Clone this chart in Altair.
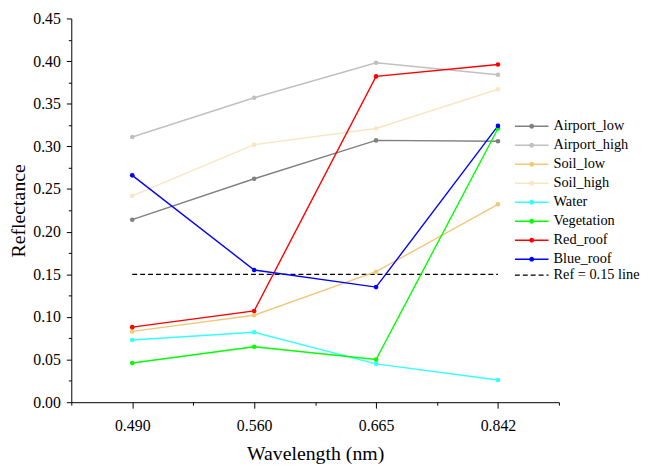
import altair as alt
import pandas as pd

categories = ["0.490", "0.560", "0.665", "0.842"]
series_names = ["Airport_low", "Airport_high", "Soil_low", "Soil_high",
                "Water", "Vegetation", "Red_roof", "Blue_roof"]
airport_low = [0.214, 0.262, 0.307, 0.306]
airport_high = [0.311, 0.357, 0.398, 0.384]
soil_low = [0.083, 0.102, 0.153, 0.232]
soil_high = [0.242, 0.302, 0.321, 0.367]
water = [0.073, 0.082, 0.045, 0.026]
vegetation = [0.046, 0.065, 0.050, 0.321]
red_roof = [0.088, 0.107, 0.382, 0.396]
blue_roof = [0.266, 0.155, 0.135, 0.324]
series_colors = ["#808080", "#C0C0C0", "#F0C878", "#FAE5C3",
                 "#33FFFF", "#00FF00", "#FF0000", "#0000FF"]
ref_value = 0.15
ref_label = "Ref = 0.15 line"

series_values = [airport_low, airport_high, soil_low, soil_high,
                 water, vegetation, red_roof, blue_roof]

rows = []
for name, vals in zip(series_names, series_values):
    for i, (c, v) in enumerate(zip(categories, vals)):
        rows.append({"idx": i, "wavelength": c, "series": name, "reflectance": v})
df = pd.DataFrame(rows)

ref_df = pd.DataFrame({
    "idx": [0, len(categories) - 1],
    "reflectance": [ref_value, ref_value],
    "ref": [ref_label, ref_label],
})

FONT = "Liberation Serif"
n = len(categories)
x_tick_values = [i * 0.5 - 0.5 for i in range(2 * n + 1)]
y_tick_values = [round(i * 0.025, 3) for i in range(19)]
cat_array = "[" + ",".join("'" + c + "'" for c in categories) + "]"

x_enc = alt.X(
    "idx:Q",
    scale=alt.Scale(domain=[-0.5, n - 0.5], nice=False, zero=False),
    axis=alt.Axis(
        title="Wavelength (nm)",
        values=x_tick_values,
        labelExpr=f"datum.value == floor(datum.value) ? {cat_array}[datum.value] : ''",
        tickSize={"condition": {"test": "datum.value == floor(datum.value)", "value": 6}, "value": 3},
        labelPadding=10,
        titlePadding=10,
        grid=False,
    ),
)
y_enc = alt.Y(
    "reflectance:Q",
    scale=alt.Scale(domain=[0, 0.45], nice=False, zero=False),
    axis=alt.Axis(
        title="Reflectance",
        values=y_tick_values,
        labelExpr="round(datum.value * 1000) % 50 == 0 ? format(datum.value, '.2f') : ''",
        tickSize={"condition": {"test": "round(datum.value * 1000) % 50 == 0", "value": 5}, "value": 3},
        labelPadding=6,
        titlePadding=4,
        grid=False,
    ),
)

color_scale = alt.Scale(domain=series_names, range=series_colors)

LEG_X = 456
LEG_Y = 99.5
SYM_SIZE = 289
LABEL_OFF = 12.5
ROW_PAD = 3.2
LABEL_SIZE = 14.5
line_sym = "M-2,0H2"
line_dot_sym = "M-2,0H2M-0.2,0A0.2,0.2,0,1,0,0.2,0A0.2,0.2,0,1,0,-0.2,0Z"

series_legend = alt.Legend(
    title=None, orient="none", legendX=LEG_X, legendY=LEG_Y,
    symbolType=line_dot_sym, symbolSize=SYM_SIZE, symbolStrokeWidth=1.5,
    symbolOpacity=1,
    labelFont=FONT, labelFontSize=LABEL_SIZE, labelColor="black",
    labelOffset=LABEL_OFF, rowPadding=ROW_PAD,
)

lines = alt.Chart(df).mark_line(strokeWidth=1.4).encode(
    x=x_enc, y=y_enc,
    color=alt.Color("series:N", scale=color_scale, legend=series_legend),
)

points = alt.Chart(df).mark_circle(size=22, opacity=1).encode(
    x=x_enc, y=y_enc,
    fill=alt.Fill("series:N", scale=color_scale, legend=series_legend),
)

ref = alt.Chart(ref_df).mark_line(color="black", strokeWidth=1.3).encode(
    x=x_enc, y=y_enc,
    strokeDash=alt.StrokeDash(
        "ref:N",
        scale=alt.Scale(domain=[ref_label], range=[[5, 3]]),
        legend=alt.Legend(
            title=None, orient="none", legendX=LEG_X, legendY=250,
            symbolType=line_sym, symbolSize=SYM_SIZE, symbolStrokeWidth=1.3,
            symbolStrokeColor="black",
            labelFont=FONT, labelFontSize=LABEL_SIZE, labelColor="black",
            labelOffset=LABEL_OFF,
        ),
    ),
)

chart = alt.layer(ref, lines, points).properties(
    width=493, height=388,
    autosize=alt.AutoSizeParams(type="none"),
    padding={"left": 64, "top": 8, "right": 83, "bottom": 67},
).configure_view(strokeWidth=0).configure_axis(
    labelFont=FONT, labelFontSize=16, labelColor="black",
    titleFont=FONT, titleFontSize=20, titleColor="black", titleFontWeight="normal",
    domainColor="black", tickColor="black", domainWidth=1, tickWidth=1,
)

chart.save("out.html", embed_options={"renderer": "svg", "actions": False})
